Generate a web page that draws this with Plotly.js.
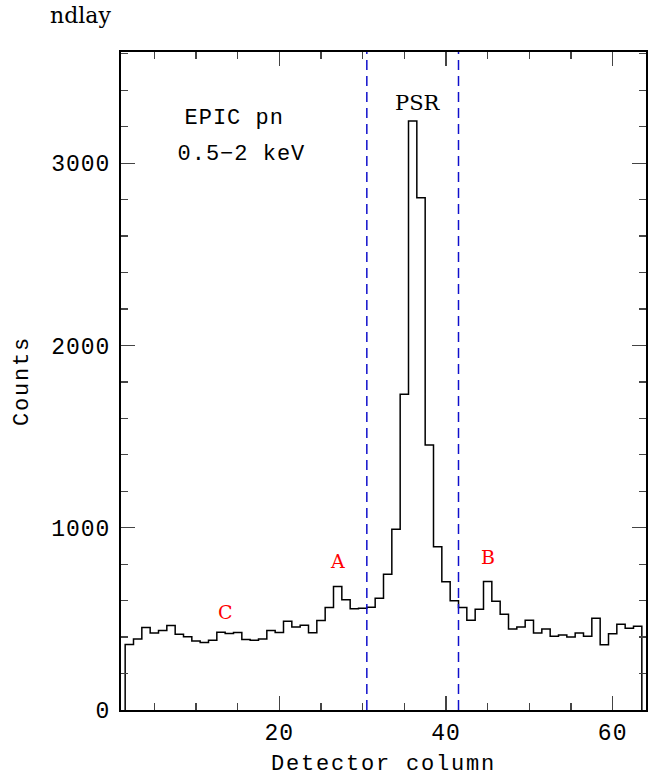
<!DOCTYPE html>
<html><head><meta charset="utf-8">
<script src="https://cdn.plot.ly/plotly-3.0.1.min.js"></script>
<style>html,body{margin:0;padding:0;background:#fff}#plot{width:662px;height:777px}</style>
</head><body><div id="plot"></div>
<script>
// Detector columns (bin centres) and counts
var columns = [];
for (var c = 2; c <= 63; c++) columns.push(c);
var counts = [360, 389, 453, 422, 436, 464, 416, 402, 378, 371,
              382, 427, 420, 425, 387, 382, 389, 436, 425, 487,
              455, 465, 424, 491, 562, 678, 605, 555, 558, 564,
              613, 745, 991, 1732, 3231, 2810, 1454, 896, 704, 600,
              562, 493, 553, 705, 596, 525, 445, 456, 493, 422,
              445, 404, 411, 400, 422, 404, 504, 358, 418, 471,
              449, 460];
var psrWindow = [30.5, 41.5];
var xTicks = [20, 40, 60];
var yTicks = [0, 1000, 2000, 3000];

// build step outline from bin centres (bin width 1)
var sx = [columns[0] - 0.5], sy = [0];
for (var i = 0; i < columns.length; i++) { sx.push(columns[i] - 0.5); sy.push(counts[i]); }
sx.push(columns[columns.length - 1] + 0.5); sy.push(counts[counts.length - 1]);
sx.push(columns[columns.length - 1] + 0.5); sy.push(0);

var tickFont = {family: 'Liberation Mono', size: 23, color: '#000'};
var labFont = {family: 'Liberation Mono', size: 22, color: '#000'};

var trace = {x: sx, y: sy, mode: 'lines', line: {shape: 'hv', color: '#000', width: 1.5}, hoverinfo: 'skip'};

var shapes = psrWindow.map(function (v) {
  return {type: 'line', xref: 'x', yref: 'paper', x0: v, x1: v, y0: 0, y1: 1,
          line: {color: '#1010cc', width: 1.5, dash: '10px,6px'}};
});

var layout = {
  width: 662, height: 777,
  margin: {l: 121, r: 16, t: 52, b: 67},
  paper_bgcolor: '#fff', plot_bgcolor: '#fff',
  showlegend: false,
  xaxis: {range: [1, 64], tickvals: xTicks, ticks: 'inside', ticklen: 14, tickwidth: 1.2,
          minor: {dtick: 5, tick0: 0, ticks: 'inside', ticklen: 7, tickwidth: 1.2, showgrid: false},
          showline: true, linewidth: 2, linecolor: '#000', mirror: 'allticks', showgrid: false, zeroline: false,
          tickfont: tickFont, title: {text: 'Detector column', font: labFont, standoff: 13}},
  yaxis: {range: [0, 3610], tickvals: yTicks, ticks: 'inside', ticklen: 14, tickwidth: 1.2,
          minor: {dtick: 200, tick0: 0, ticks: 'inside', ticklen: 7, tickwidth: 1.2, showgrid: false},
          showline: true, linewidth: 2, linecolor: '#000', mirror: 'allticks', showgrid: false, zeroline: false,
          tickfont: tickFont, ticklabelstandoff: 4, title: {text: 'Counts', font: labFont, standoff: 20}},
  shapes: shapes,
  annotations: [
    {text: 'ndlay', xref: 'paper', yref: 'paper', x: -0.14, y: 1.055, xanchor: 'left', yanchor: 'middle', showarrow: false,
     font: {family: 'DejaVu Serif', size: 22, color: '#000'}},
    {text: 'EPIC pn', xref: 'x', yref: 'y', x: 14.5, y: 3245, xanchor: 'center', showarrow: false, font: labFont},
    {text: '0.5\u22122 keV', xref: 'x', yref: 'y', x: 15.5, y: 3045, xanchor: 'center', showarrow: false, font: labFont},
    {text: 'PSR', xref: 'x', yref: 'y', x: 36.6, y: 3330, showarrow: false, font: {family: 'DejaVu Serif', size: 21, color: '#000'}},
    {text: 'A', xref: 'x', yref: 'y', x: 27, y: 820, showarrow: false, font: {family: 'DejaVu Serif', size: 19, color: '#ff0000'}},
    {text: 'B', xref: 'x', yref: 'y', x: 45, y: 840, showarrow: false, font: {family: 'DejaVu Serif', size: 19, color: '#ff0000'}},
    {text: 'C', xref: 'x', yref: 'y', x: 13.5, y: 540, showarrow: false, font: {family: 'DejaVu Serif', size: 19, color: '#ff0000'}}
  ]
};
Plotly.newPlot('plot', [trace], layout, {staticPlot: true, displayModeBar: false}).then(function (gd) {
  // wide Hershey-like glyph spacing of the original
  gd.querySelectorAll('.xtick text, .ytick text').forEach(function (t) { t.style.letterSpacing = '1px'; });
  gd.querySelectorAll('.g-xtitle text, .g-ytitle text').forEach(function (t) { t.style.letterSpacing = '1.8px'; });
  gd.querySelectorAll('.annotation-text').forEach(function (t) {
    if (t.textContent === 'EPIC pn' || t.textContent.indexOf('keV') >= 0) t.style.letterSpacing = '1px';
  });
});
</script></body></html>
